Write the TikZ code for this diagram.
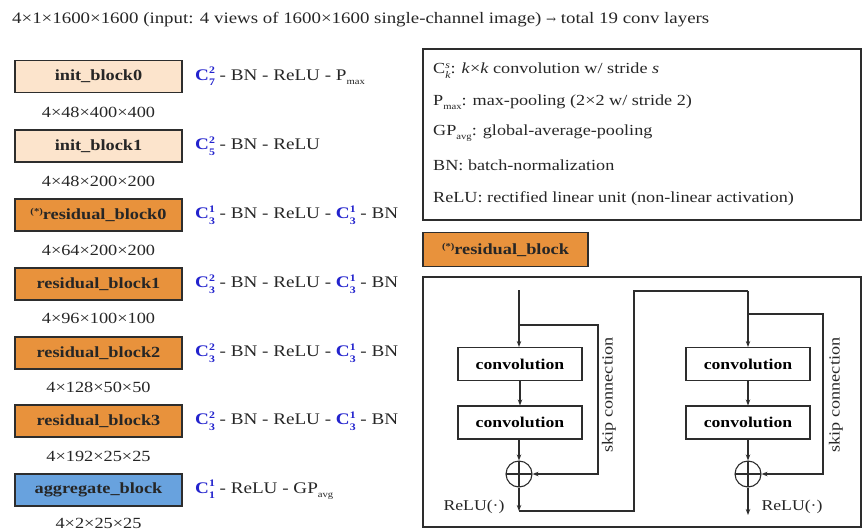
\documentclass[tikz,border=0pt]{standalone}
\usepackage{fontspec}
\setmainfont{Liberation Serif}[FakeStretch=1.18]
\newfontfamily\arrowfont{DejaVu Serif}
\usetikzlibrary{arrows.meta}
\definecolor{cblue}{RGB}{35,35,205}
\definecolor{peach}{RGB}{252,228,204}
\definecolor{orangeblk}{RGB}{232,146,60}
\definecolor{aggblue}{RGB}{104,162,222}
\definecolor{edge}{RGB}{45,45,45}
\newcommand\Ckk[2]{{\color{cblue}\bfseries C\makebox[0pt][l]{\raisebox{0.85ex}{\fontsize{10}{10}\selectfont #2}}\raisebox{-0.75ex}{\fontsize{10}{10}\selectfont #1}}}
\newcommand\Pmax{P\raisebox{-0.6ex}{\fontsize{9}{9}\selectfont max}}
\newcommand\GPavg{GP\raisebox{-0.6ex}{\fontsize{9}{9}\selectfont avg}}
\newcommand\astmark{\raisebox{0.7ex}{\fontsize{9}{9}\selectfont (*)}}
\tikzset{
  blk/.style={draw=edge, line width=1.1pt, minimum width=167pt, minimum height=32pt, inner sep=0pt, font=\fontsize{15.5}{17}\selectfont\bfseries, text=black!85},
  initb/.style={blk, fill=peach},
  resb/.style={blk, fill=orangeblk},
  aggb/.style={blk, fill=aggblue},
  dimtxt/.style={font=\fontsize{15.5}{17}\selectfont, text=black!85},
  formula/.style={anchor=west, font=\fontsize{16.2}{18}\selectfont, text=black!85, inner sep=0pt},
  legtxt/.style={anchor=west, font=\fontsize{15.4}{17}\selectfont, text=black!85, inner sep=0pt},
  frame/.style={draw=edge, line width=1.1pt},
  convbox/.style={draw=edge, line width=1.1pt, minimum width=124pt, minimum height=33pt, inner sep=0pt, font=\fontsize{15}{17}\selectfont\bfseries},
  plus/.style={circle, draw=edge, line width=1.1pt, minimum size=26pt, inner sep=0pt,
    path picture={\draw[edge, line width=1.1pt] (path picture bounding box.north) -- (path picture bounding box.south) (path picture bounding box.west) -- (path picture bounding box.east);}},
  flow/.style={draw=edge, line width=1.1pt},
  arr/.style={flow, -{Stealth[length=6pt,width=4.5pt]}},
  skiptxt/.style={rotate=90, font=\fontsize{15.4}{17}\selectfont, text=black!85},
  relutxt/.style={font=\fontsize{15}{17}\selectfont, text=black!85}
}
\begin{document}
\begin{tikzpicture}[x=1pt,y=-1pt]
\useasboundingbox (0,0) rectangle (864,531);
% title
\node[anchor=west, inner sep=0pt, font=\fontsize{16}{18}\selectfont, text=black!85] (title) at (12,20) {4×1×1600×1600 (input: 4 views of 1600×1600 single-channel image) {\arrowfont\fontsize{12}{12}\selectfont →} total 19 conv layers};
% left column blocks
\node[initb] (b0) at (98.5,76.5) {init\_block0};
\node[dimtxt] (d0) at (98.5,112) {4×48×400×400};
\node[initb] (b1) at (98.5,146) {init\_block1};
\node[dimtxt] (d1) at (98.5,181) {4×48×200×200};
\node[resb] (b2) at (98.5,215) {\astmark residual\_block0};
\node[dimtxt] (d2) at (98.5,250) {4×64×200×200};
\node[resb] (b3) at (98.5,284) {residual\_block1};
\node[dimtxt] (d3) at (98.5,318) {4×96×100×100};
\node[resb] (b4) at (98.5,353) {residual\_block2};
\node[dimtxt] (d4) at (98.5,387) {4×128×50×50};
\node[resb] (b5) at (98.5,421) {residual\_block3};
\node[dimtxt] (d5) at (98.5,456) {4×192×25×25};
\node[aggb] (b6) at (98.5,490) {aggregate\_block};
\node[dimtxt] (d6) at (98.5,523) {4×2×25×25};
% formulas
\node[formula] (f0) at (195,76.5) {\Ckk{7}{2} - BN - ReLU - \Pmax};
\node[formula] (f1) at (195,146) {\Ckk{5}{2} - BN - ReLU};
\node[formula] (f2) at (195,215) {\Ckk{3}{1} - BN - ReLU - \Ckk{3}{1} - BN};
\node[formula] (f3) at (195,284) {\Ckk{3}{2} - BN - ReLU - \Ckk{3}{1} - BN};
\node[formula] (f4) at (195,353) {\Ckk{3}{2} - BN - ReLU - \Ckk{3}{1} - BN};
\node[formula] (f5) at (195,421) {\Ckk{3}{2} - BN - ReLU - \Ckk{3}{1} - BN};
\node[formula] (f6) at (195,490) {\Ckk{1}{1} - ReLU - \GPavg};
% legend
\draw[frame] (423,49) rectangle (861,220);
\node[legtxt] (l0) at (433,71) {C\makebox[0pt][l]{\raisebox{0.8ex}{\fontsize{10}{10}\selectfont\itshape s}}\raisebox{-0.7ex}{\fontsize{10}{10}\selectfont\itshape k}: \textit{k}×\textit{k} convolution w/ stride \textit{s}};
\node[legtxt] (l1) at (433,102) {\Pmax: max-pooling (2×2 w/ stride 2)};
\node[legtxt] (l2) at (433,133) {\GPavg: global-average-pooling};
\node[legtxt] (l3) at (433,165) {BN: batch-normalization};
\node[legtxt] (l4) at (433,199) {ReLU: rectified linear unit (non-linear activation)};
% residual block header
\node[blk, fill=orangeblk, minimum width=165pt, minimum height=34pt] (rh) at (505.5,249.5) {\astmark residual\_block};
% residual diagram frame
\draw[frame] (423,277) rectangle (861,527);
% left unit
\coordinate (inL) at (519,290);
\coordinate (brL) at (519,325);
\coordinate (skL) at (598,325);
\node[convbox] (c1) at (520,364) {convolution};
\node[convbox] (c2) at (520,422.5) {convolution};
\node[plus] (p1) at (519,474) {};
\coordinate (outL) at (519,511);
\coordinate (upL) at (634,511);
\coordinate (upT) at (634,291);
\coordinate (inR) at (748,291);
\draw[arr] (inL) -- (inL |- c1.north);
\draw[arr] (c1) -- (c2);
\draw[arr] (c2.south -| p1) -- (p1.north);
\draw[arr] (brL) -- (skL) |- (p1.east);
\draw[arr] (p1.south) -- (outL);
\draw[flow] (outL) -- (upL) -- (upT) -- (inR);
\node[skiptxt] (s1) at (609,395) {skip connection};
\node[relutxt, anchor=east] (r1) at (508,507) {ReLU(·)};
% right unit
\coordinate (brR) at (748,314);
\coordinate (skR) at (823,314);
\node[convbox] (c3) at (748,364) {convolution};
\node[convbox] (c4) at (748,422.5) {convolution};
\node[plus] (p2) at (748,474) {};
\coordinate (outR) at (748,515);
\draw[arr] (inR) -- (c3.north);
\draw[arr] (c3) -- (c4);
\draw[arr] (c4) -- (p2.north);
\draw[arr] (brR) -- (skR) |- (p2.east);
\draw[arr] (p2.south) -- (outR);
\node[skiptxt] (s2) at (836,395) {skip connection};
\node[relutxt, anchor=west] (r2) at (758,507) {ReLU(·)};
\end{tikzpicture}
\end{document}
